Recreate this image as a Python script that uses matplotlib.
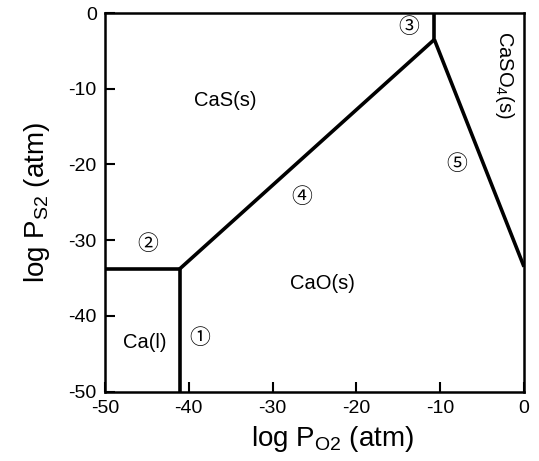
import matplotlib
matplotlib.use("Agg")
import matplotlib.pyplot as plt

plt.rcParams['font.family'] = ['Liberation Sans', 'Noto Sans CJK JP', 'DejaVu Sans']
plt.rcParams['mathtext.fontset'] = 'custom'
plt.rcParams['mathtext.rm'] = 'Liberation Sans'
plt.rcParams['axes.unicode_minus'] = False

# phase boundaries (log PO2, log PS2)
line1_x = [-41.1, -41.1]
line1_y = [-50, -33.8]
line2_x = [-50, -41.1]
line2_y = [-33.8, -33.8]
line3_x = [-10.7, -10.7]
line3_y = [-3.5, 0]
line4_x = [-41.1, -10.7]
line4_y = [-33.8, -3.5]
line5_x = [-10.7, 0]
line5_y = [-3.5, -33.5]

# region labels
phases = ['CaS(s)', 'CaO(s)', 'Ca(l)']
phase_x = [-35.7, -24.1, -45.2]
phase_y = [-11.5, -35.7, -43.5]

# boundary numbers
marks = ['①', '②', '③', '④', '⑤']
mark_x = [-38.7, -44.9, -13.7, -26.5, -8.0]
mark_y = [-42.9, -30.5, -1.8, -24.3, -19.9]

fig = plt.figure(figsize=(5.39, 4.61), dpi=100)
ax = fig.add_axes([0.1948, 0.1503, 0.7774, 0.8215])

for xs, ys in [(line1_x, line1_y), (line2_x, line2_y), (line3_x, line3_y),
               (line4_x, line4_y), (line5_x, line5_y)]:
    ax.plot(xs, ys, color='black', lw=2.6, solid_capstyle='butt')

for name, x, y in zip(phases, phase_x, phase_y):
    ax.text(x, y, name, fontsize=14.5, ha='center', va='center')
ax.text(-2.3, -8.2, r'CaSO$_4$(s)', fontsize=14.5, ha='center', va='center',
        rotation=-90)

for m, x, y in zip(marks, mark_x, mark_y):
    ax.text(x, y, m, fontsize=15, ha='center', va='center')

ax.set_xlim(-50, 0)
ax.set_ylim(-50, 0)
ax.set_xticks([-50, -40, -30, -20, -10, 0])
ax.set_yticks([-50, -40, -30, -20, -10, 0])
ax.tick_params(direction='in', length=7, width=1.5, labelsize=14, pad=6)
for sp in ax.spines.values():
    sp.set_linewidth(1.8)

ax.set_xlabel(r'log P$_{\mathrm{O2}}$ (atm)', fontsize=20)
ax.set_ylabel(r'log P$_{\mathrm{S2}}$ (atm)', fontsize=20, labelpad=12)
ax.xaxis.set_label_coords(0.542, -0.085)

fig.savefig('out.png', dpi=100)
